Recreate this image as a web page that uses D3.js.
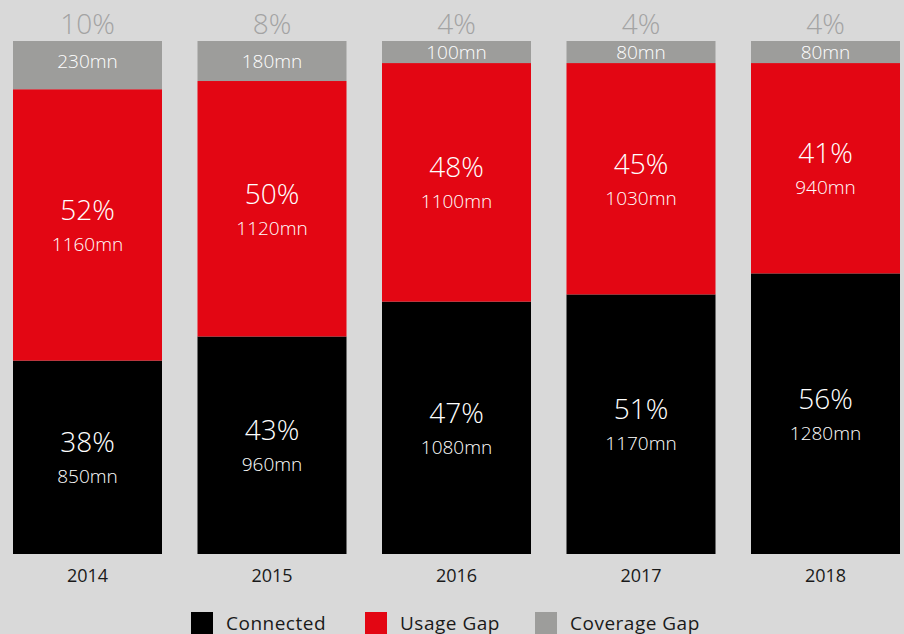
<!DOCTYPE html>
<html><head><meta charset="utf-8">
<script src="https://cdn.jsdelivr.net/npm/d3@7"></script>
<style>html,body{margin:0;padding:0;background:#d9d9d9;}svg{display:block;}</style>
</head><body>
<svg id="chart" width="904" height="634"></svg>
<script>
const years = ["2014","2015","2016","2017","2018"];
// bar segment shares (%) as drawn
const connectedShare = [37.7, 42.4, 49.2, 50.6, 54.7];
const usageShare = [52.9, 49.8, 46.5, 45.1, 41.0];
const coverageShare = [9.4, 7.8, 4.3, 4.3, 4.3];
// label values
const connectedMn = [850, 960, 1080, 1170, 1280];
const usageMn = [1160, 1120, 1100, 1030, 940];
const coverageMn = [230, 180, 100, 80, 80];
const connectedPct = ["38%","43%","47%","51%","56%"];
const usagePct = ["52%","50%","48%","45%","41%"];
const coveragePct = ["10%","8%","4%","4%","4%"];
const seriesNames = ["Connected","Usage Gap","Coverage Gap"];
const colors = ["#000000","#e30613","#9d9d9b"];

const svg = d3.select("#chart");
const W = 904, H = 634;
svg.append("rect").attr("width",W).attr("height",H).attr("fill","#d9d9d9");

const x = d3.scaleBand().domain(years).range([13, 900]).paddingInner(0.1924).paddingOuter(0);
const y = d3.scaleLinear().domain([0, 100]).range([554, 41]);

const rows = years.map((yr,i)=>{
  const t = connectedShare[i]+usageShare[i]+coverageShare[i];
  return {year:yr, c:connectedShare[i]*100/t, u:usageShare[i]*100/t, g:coverageShare[i]*100/t, i};
});
const stack = d3.stack().keys(["c","u","g"])(rows);

const font = "'Open Sans', Lato, sans-serif";
stack.forEach((layer, k)=>{
  svg.append("g").selectAll("rect").data(layer).join("rect")
    .attr("x", d=>x(d.data.year))
    .attr("width", x.bandwidth())
    .attr("y", d=>y(d[1]))
    .attr("height", d=>y(d[0])-y(d[1]))
    .attr("fill", colors[k]);
});

const pctArrays = [connectedPct, usagePct];
const mnArrays = [connectedMn, usageMn];
[0,1].forEach(k=>{
  const layer = stack[k];
  const g = svg.append("g").attr("font-family", font).attr("fill","#ffffff").attr("text-anchor","middle");
  layer.forEach((d,i)=>{
    const cx = x(d.data.year)+x.bandwidth()/2;
    const cy = (y(d[0])+y(d[1]))/2;
    g.append("text").attr("x",cx).attr("y",cy-15).attr("dy","0.36em")
      .attr("font-size",28).attr("font-weight",300).text(pctArrays[k][i]);
    g.append("text").attr("x",cx).attr("y",cy+19).attr("dy","0.36em")
      .attr("font-size",19).attr("font-weight",300).text(mnArrays[k][i]+"mn");
  });
});
{
  const layer = stack[2];
  const g = svg.append("g").attr("font-family", font).attr("text-anchor","middle");
  layer.forEach((d,i)=>{
    const cx = x(d.data.year)+x.bandwidth()/2;
    const cy = (y(d[0])+y(d[1]))/2;
    g.append("text").attr("x",cx).attr("y",Math.min(cy, 61)).attr("dy","0.36em")
      .attr("fill","#ffffff").attr("font-size",19).attr("font-weight",300).text(coverageMn[i]+"mn");
    g.append("text").attr("x",cx).attr("y",y(d[1])-17).attr("dy","0.36em")
      .attr("fill","#a3a3a3").attr("font-size",28).attr("font-weight",300).text(coveragePct[i]);
  });
}

const xAxis = svg.append("g").attr("transform","translate(0,554)")
  .call(d3.axisBottom(x).tickSize(0).tickPadding(15));
xAxis.select(".domain").remove();
xAxis.selectAll("text").attr("font-family",font).attr("font-size",18).attr("fill","#1a1a1a");

const legendX = [191, 365, 535];
const leg = svg.append("g").attr("font-family",font);
seriesNames.forEach((n,k)=>{
  leg.append("rect").attr("x",legendX[k]).attr("y",612).attr("width",22).attr("height",22).attr("fill",colors[k]);
  leg.append("text").attr("x",legendX[k]+35).attr("y",623).attr("dy","0.36em")
    .attr("font-size",19).attr("letter-spacing",0.5).attr("fill","#1a1a1a").text(n);
});
</script>
</body></html>
